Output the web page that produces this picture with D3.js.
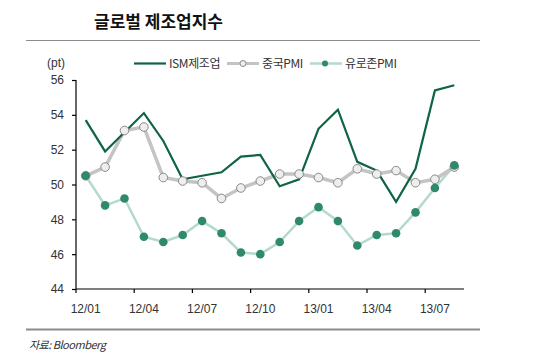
<!DOCTYPE html>
<html><head><meta charset="utf-8">
<script src="https://cdn.jsdelivr.net/npm/d3@7/dist/d3.min.js"></script>
<style>
body{margin:0;background:#fff;}
text{font-family:"Liberation Sans","DejaVu Sans",sans-serif;}
</style></head>
<body><svg id="c" width="545" height="364"></svg>
<script>
const months = ["12/01","12/02","12/03","12/04","12/05","12/06","12/07","12/08","12/09","12/10","12/11","12/12",
  "13/01","13/02","13/03","13/04","13/05","13/06","13/07","13/08"];
const tickLabels = ["12/01","12/04","12/07","12/10","13/01","13/04","13/07"];
const yTicks = [44,46,48,50,52,54,56];
const ism = [53.7,51.9,53.0,54.1,52.5,50.3,50.5,50.7,51.6,51.7,49.9,50.3,53.2,54.3,51.3,50.8,49.0,50.9,55.4,55.7];
const china = [50.5,51.0,53.1,53.3,50.4,50.2,50.1,49.2,49.8,50.2,50.6,50.6,50.4,50.1,50.9,50.6,50.8,50.1,50.3,51.0];
const euro = [50.5,48.8,49.2,47.0,46.7,47.1,47.9,47.2,46.1,46.0,46.7,47.9,48.7,47.9,46.5,47.1,47.2,48.4,49.8,51.1];
const seriesNames = ["ISM제조업","중국PMI","유로존PMI"];

const svg = d3.select("#c");
const L = 76, R = 464, T = 80, B = 289;
const x = d3.scaleBand().domain(months).range([L, R]);
const xc = d => x(d) + x.bandwidth()/2;
const y = d3.scaleLinear().domain([44,56]).range([B, T]);

// title and rules
svg.append("text").attr("x",94).attr("y",28).attr("font-size",17).attr("font-weight","bold")
  .attr("fill","#111").style("font-family","'Noto Sans CJK KR',sans-serif").text("글로벌 제조업지수");
svg.append("line").attr("x1",26).attr("x2",480).attr("y1",40.5).attr("y2",40.5).attr("stroke","#8c8c8c").attr("stroke-width",1);
svg.append("line").attr("x1",26).attr("x2",480).attr("y1",329.5).attr("y2",329.5).attr("stroke","#8c8c8c").attr("stroke-width",2);
svg.append("text").attr("x",29).attr("y",349).attr("font-size",11).attr("font-style","italic")
  .attr("fill","#333").style("font-family","'Noto Sans CJK KR',sans-serif").attr("letter-spacing","-0.5").text("자료: Bloomberg");

// y axis
const ya = svg.append("g").attr("transform",`translate(${L},0)`)
  .call(d3.axisLeft(y).tickValues(yTicks).tickSize(4).tickPadding(8).tickFormat(d3.format("d")));
ya.select(".domain").attr("stroke","#000").attr("stroke-width",1.2).attr("d",`M0,${T}V${B}`);
ya.selectAll(".tick line").attr("stroke","#000").attr("stroke-width",1.2);
ya.selectAll(".tick text").attr("font-size",12).attr("fill","#333").style("font-family","'Liberation Sans',sans-serif");
svg.append("text").attr("x",47).attr("y",67).attr("font-size",12).attr("fill","#333").text("(pt)");

// x axis: ticks at category boundaries, labels at centers
const xa = svg.append("g").attr("transform",`translate(0,${B})`);
xa.append("line").attr("x1",L).attr("x2",R).attr("stroke","#000").attr("stroke-width",1.2);
xa.selectAll("line.t").data(tickLabels).join("line").attr("class","t")
  .attr("x1",d=>x(d)).attr("x2",d=>x(d)).attr("y1",0).attr("y2",4).attr("stroke","#000").attr("stroke-width",1.2);
xa.selectAll("text").data(tickLabels).join("text")
  .attr("x",d=>xc(d)).attr("y",24).attr("text-anchor","middle").attr("font-size",12).attr("fill","#333").text(d=>d);

// series
const line = d3.line().x((d,i)=>xc(months[i])).y(d=>y(d));
svg.append("path").datum(euro).attr("d",line).attr("fill","none").attr("stroke","#b4dacb").attr("stroke-width",2.5);
svg.append("path").datum(china).attr("d",line).attr("fill","none").attr("stroke","#c4c4c4").attr("stroke-width",3.5);
svg.append("path").datum(ism).attr("d",line).attr("fill","none").attr("stroke","#0d6541").attr("stroke-width",2.2);
svg.selectAll("circle.c").data(china).join("circle").attr("class","c")
  .attr("cx",(d,i)=>xc(months[i])).attr("cy",d=>y(d)).attr("r",4.3)
  .attr("fill","#eeeeee").attr("stroke","#8a8a8a").attr("stroke-width",1);
svg.selectAll("circle.e").data(euro).join("circle").attr("class","e")
  .attr("cx",(d,i)=>xc(months[i])).attr("cy",d=>y(d)).attr("r",4.3)
  .attr("fill","#2f8a69");

// legend
const lg = svg.append("g").attr("transform","translate(0,63.5)");
const items = [
  {x:134, name:seriesNames[0], stroke:"#0d6541", w:2.2, mk:null},
  {x:227, name:seriesNames[1], stroke:"#c4c4c4", w:3, mk:"c"},
  {x:310, name:seriesNames[2], stroke:"#b4dacb", w:2.5, mk:"e"}
];
items.forEach(it=>{
  lg.append("line").attr("x1",it.x).attr("x2",it.x+32).attr("stroke",it.stroke).attr("stroke-width",it.w);
  if(it.mk==="c") lg.append("circle").attr("cx",it.x+16).attr("r",3).attr("fill","#eee").attr("stroke","#8a8a8a");
  if(it.mk==="e") lg.append("circle").attr("cx",it.x+15).attr("r",3).attr("fill","#2f8a69");
  lg.append("text").attr("x",it.x+35).attr("y",4.5).attr("font-size",12).attr("fill","#333")
    .style("font-family","'Noto Sans CJK KR',sans-serif").attr("letter-spacing","-0.4").text(it.name);
});
</script></body></html>
